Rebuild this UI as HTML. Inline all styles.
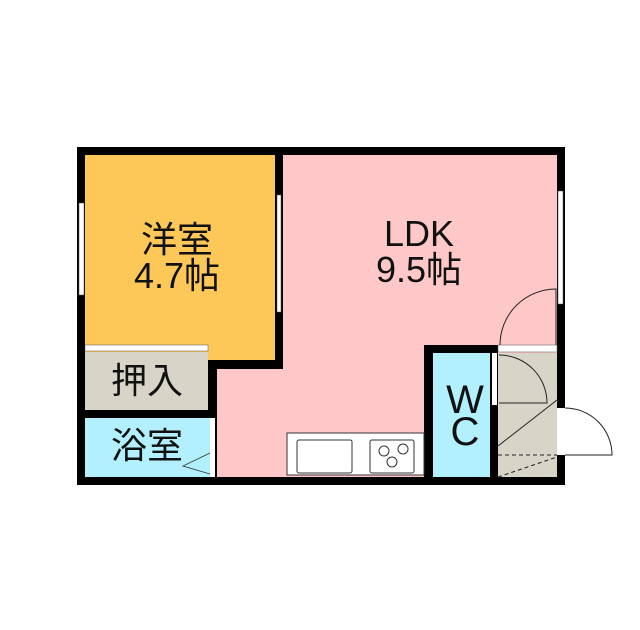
<!DOCTYPE html>
<html><head><meta charset="utf-8"><style>
html,body{margin:0;padding:0;background:#fff}
svg{display:block}
text{font-family:"Liberation Sans","Noto Sans CJK JP",sans-serif;fill:#111}
</style></head><body>
<svg width="640" height="630" viewBox="0 0 640 630" xmlns="http://www.w3.org/2000/svg">
<rect x="77" y="147" width="488" height="338" fill="#000"/>
<rect x="283" y="155" width="274" height="322" fill="#fec8c8"/>
<rect x="217" y="369" width="70" height="108" fill="#fec8c8"/>
<rect x="85" y="155" width="190" height="205" fill="#fdc858"/>
<rect x="85" y="155" width="123" height="214" fill="#fdc858"/>
<rect x="85" y="352" width="123" height="58" fill="#d8d4c8"/>
<rect x="85" y="418" width="125" height="59" fill="#b2f0fe"/>
<rect x="424" y="345" width="74" height="140" fill="#000"/>
<rect x="433" y="353" width="57" height="124" fill="#b2f0fe"/>
<rect x="498" y="353" width="59" height="124" fill="#d8d4c8"/>
<rect x="498" y="345" width="59" height="7" fill="#fff" stroke="#555" stroke-width="0.5"/>
<rect x="492" y="353" width="5" height="52" fill="#fff"/>
<rect x="85" y="345" width="123" height="6" fill="#fff" stroke="#555" stroke-width="0.5"/>
<rect x="210" y="418" width="5" height="59" fill="#fff"/>
<polyline points="210,453 183,466 210,474" fill="none" stroke="#333" stroke-width="0.8"/>
<rect x="79" y="203" width="5" height="92" fill="#fff" stroke="#555" stroke-width="0.5"/>
<rect x="277" y="195" width="4" height="117" fill="#fff" stroke="#555" stroke-width="0.5"/>
<rect x="558" y="191" width="5" height="113" fill="#fff" stroke="#555" stroke-width="0.5"/>
<rect x="557" y="408" width="8" height="47" fill="#fff"/>
<path d="M500,345 A56,56 0 0 1 556,289 L556,345" fill="none" stroke="#222" stroke-width="1"/>
<path d="M499,355 A48,48 0 0 1 547,403 L499,403" fill="none" stroke="#222" stroke-width="1"/>
<line x1="498" y1="446" x2="557" y2="400" stroke="#222" stroke-width="1"/>
<line x1="498" y1="455" x2="557" y2="455" stroke="#222" stroke-width="1" stroke-dasharray="4,3"/>
<line x1="498" y1="477" x2="557" y2="457" stroke="#222" stroke-width="1" stroke-dasharray="4,3"/>
<path d="M565,408 A47,47 0 0 1 612,455 L565,455" fill="none" stroke="#222" stroke-width="1"/>
<rect x="287" y="433" width="137" height="42" fill="#fff" stroke="#333" stroke-width="1"/>
<rect x="297" y="440" width="55" height="33" rx="2" fill="#fff" stroke="#333" stroke-width="1"/>
<rect x="370" y="440" width="44" height="33" rx="2" fill="#fff" stroke="#333" stroke-width="1"/>
<circle cx="384" cy="451" r="5" fill="none" stroke="#333"/>
<circle cx="403" cy="449" r="5" fill="none" stroke="#333"/>
<circle cx="392" cy="462" r="5" fill="none" stroke="#333"/>
<text x="177" y="252" font-size="36" text-anchor="middle">洋室</text>
<text x="177" y="288" font-size="36" text-anchor="middle">4.7帖</text>
<text x="419" y="246" font-size="36" text-anchor="middle">LDK</text>
<text x="419" y="282" font-size="36" text-anchor="middle">9.5帖</text>
<text x="147" y="393" font-size="36" text-anchor="middle">押入</text>
<text x="147" y="458" font-size="36" text-anchor="middle">浴室</text>
<text x="465" y="413" font-size="40" text-anchor="middle">W</text>
<text x="465" y="445" font-size="40" text-anchor="middle">C</text>
</svg>
</body></html>
